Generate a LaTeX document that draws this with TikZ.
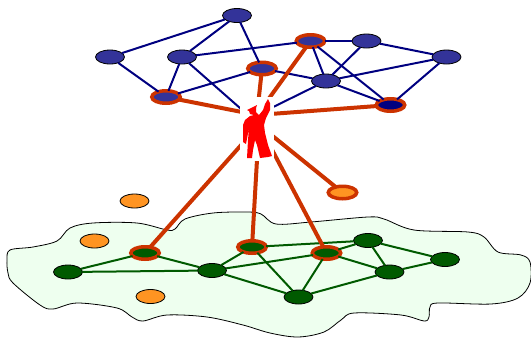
\documentclass[tikz,border=0pt]{standalone}
\usepackage{tikz}
\usetikzlibrary{shapes.geometric}

\definecolor{topblue}{HTML}{333399}
\definecolor{topline}{HTML}{000080}
\definecolor{lowgreen}{HTML}{005A00}
\definecolor{blobgreen}{HTML}{EEFFEF}
\definecolor{linkred}{HTML}{CC3300}
\definecolor{freeorange}{HTML}{FF9422}

\tikzset{
  peer/.style={shape=ellipse, draw=black, line width=0.8pt, inner sep=0pt, outer sep=0pt,
    minimum width=29pt, minimum height=14pt},
  toppeer/.style={peer, fill=topblue},
  lowpeer/.style={peer, fill=lowgreen},
  freepeer/.style={peer, fill=freeorange},
  picked/.style={draw=linkred, line width=3.5pt, minimum width=28.5pt, minimum height=12.5pt},
  topedge/.style={draw=topline, line width=2pt},
  lowedge/.style={draw=lowgreen, line width=2pt},
  pickedge/.style={draw=linkred, line width=4pt},
}

\begin{document}
\begin{tikzpicture}[x=1pt, y=-1pt]
  \useasboundingbox (0,0) rectangle (531,338);

  \draw [black, line width=0.8pt, fill=blobgreen] plot [smooth cycle, tension=0.55] coordinates {
    (7,260) (10,250) (33,247) (57,241) (70,228) (93,223) (137,223) (167,230) (175,229)
    (185,219) (213,213) (247,212) (261,214) (276,224) (311,222) (368,217) (384,219)
    (414,230) (468,232) (484,237) (498,252) (521,255) (530,262) (530,283) (518,298)
    (491,304) (438,303) (430,307) (429,317) (424,321) (401,315) (354,313) (341,320)
    (324,332) (298,337) (270,333) (243,325) (207,317) (167,315) (143,321) (132,317)
    (117,308) (77,303) (53,309) (40,305) (13,283) (8,273)};

  % upper network
  \node [toppeer] (t1) at (237,15.5) {};
  \node [toppeer] (t2) at (110,57) {};
  \node [toppeer] (t3) at (182,57) {};
  \node [toppeer, picked] (t4) at (310.5,41) {};
  \node [toppeer] (t5) at (366.5,41) {};
  \node [toppeer] (t6) at (446.5,57) {};
  \node [toppeer, picked] (t7) at (262,68.5) {};
  \node [toppeer] (t8) at (326,81) {};
  \node [toppeer, picked] (t9) at (166,97) {};
  \node [toppeer, picked, fill=topline] (t10) at (390.5,105) {};

  % lower network
  \node [lowpeer] (g0) at (68,272) {};
  \node [lowpeer, picked] (g1) at (145,253) {};
  \node [lowpeer, picked] (g2) at (252,247) {};
  \node [lowpeer, picked] (g3) at (326.5,253) {};
  \node [lowpeer] (g4) at (212,270.5) {};
  \node [lowpeer] (g5) at (368,240.5) {};
  \node [lowpeer] (g6) at (389.5,272) {};
  \node [lowpeer] (g7) at (445,259.5) {};
  \node [lowpeer] (g8) at (298.5,297) {};

  % peers outside
  \node [freepeer] (f1) at (134.5,201) {};
  \node [freepeer] (f2) at (94.5,241) {};
  \node [freepeer] (f3) at (150.5,296.5) {};
  \node [freepeer, picked] (f4) at (342.5,192.5) {};

  \coordinate (hubup) at (257,115);
  \coordinate (hubmid) at (257,123);
  \coordinate (hubdown) at (259,125);

  \foreach \a/\b in {t1/t2, t1/t3, t1/t7, t2/t9, t3/t9, t3/t4, t3/hubmid, t9/t7, t7/t8,
                     t4/t5, t4/t8, t4/t10, t5/t8, t5/t6, t6/t8, t6/t10, t8/t10, t8/hubup}
    \draw [topedge] (\a) -- (\b);
  \foreach \a/\b in {g0/g1, g0/g4, g1/g4, g4/g2, g4/g3, g4/g8, g2/g5, g2/g8, g3/g5,
                     g3/g6, g3/g8, g5/g6, g5/g7, g6/g7, g6/g8}
    \draw [lowedge] (\a) -- (\b);
  \foreach \a in {t4, t7, t9, t10}
    \draw [pickedge] (\a) -- (hubup);
  \foreach \a in {g1, g2, g3, f4}
    \draw [pickedge] (\a) -- (hubdown);

  \node [fill=white, inner sep=0pt, minimum width=34pt, minimum height=64pt] (leader) at (257,129) {};
  \fill [red]
    (268,99) -- (270,103) -- (270,110) -- (266,118) -- (264,125) -- (265,133) -- (268,145)
    -- (272,156) -- (268,157) -- (260,158) -- (257,145) -- (255,140) -- (253,150) -- (252,158)
    -- (247,158) -- (248,140) -- (249,128) -- (246,144) -- (243,142) -- (243,125) -- (245,120)
    -- (250,116) -- (254,115) -- (250,114) -- (249,111) -- (247,110) -- (257,105) -- (256,108)
    -- (256,112) -- (259,115) -- (263,110) -- (265,104) -- cycle;
\end{tikzpicture}
\end{document}
